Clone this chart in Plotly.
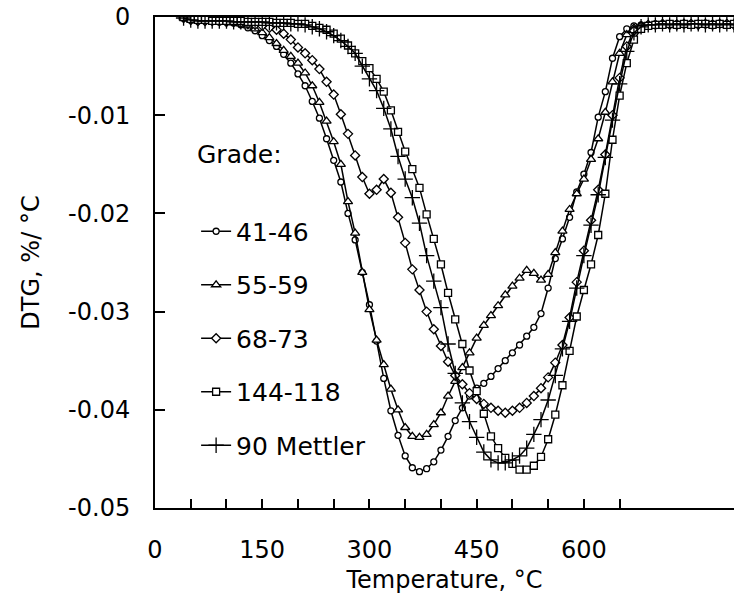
import plotly.graph_objects as go

temperature = [40, 50, 60, 70, 80, 90, 100, 110, 120, 130, 140, 150, 160, 170, 180, 190,
               200, 210, 220, 230, 240, 250, 260, 270, 280, 290, 300, 310, 320, 330, 340,
               350, 360, 370, 380, 390, 400, 410, 420, 430, 440, 450, 460, 470, 480, 490,
               500, 510, 520, 530, 540, 550, 560, 570, 580, 590, 600, 610, 620, 630, 640,
               650, 660, 670, 680, 690, 700, 710, 720, 730, 740, 750, 760, 770, 780, 790,
               800, 810]

g41_46 = [-0.0001, -0.0003, -0.0004, -0.0004, -0.0004, -0.0005, -0.0005, -0.0006, -0.0008, -0.0011,
          -0.0014, -0.0019, -0.0024, -0.0030, -0.0038, -0.0047, -0.0058, -0.0070, -0.0086, -0.0103,
          -0.0124, -0.0146, -0.0168, -0.0200, -0.0227, -0.0260, -0.0293, -0.0330, -0.0368, -0.0401,
          -0.0426, -0.0447, -0.0459, -0.0463, -0.0460, -0.0453, -0.0441, -0.0427, -0.0411, -0.0398,
          -0.0386, -0.0378, -0.0373, -0.0366, -0.0358, -0.0350, -0.0342, -0.0334, -0.0325, -0.0316,
          -0.0302, -0.0276, -0.0246, -0.0226, -0.0204, -0.0178, -0.0160, -0.0138, -0.0102, -0.0076,
          -0.0042, -0.0020, -0.0012, -0.0009, -0.0008, -0.0008, -0.0007, -0.0008, -0.0007, -0.0007,
          -0.0008, -0.0007, -0.0007, -0.0008, -0.0007, -0.0007, -0.0008, -0.0007]

g55_59 = [-0.0001, -0.0003, -0.0004, -0.0004, -0.0004, -0.0005, -0.0005, -0.0006, -0.0007, -0.0009,
          -0.0012, -0.0016, -0.0021, -0.0027, -0.0034, -0.0040, -0.0047, -0.0057, -0.0070, -0.0087,
          -0.0106, -0.0127, -0.0150, -0.0188, -0.0220, -0.0260, -0.0298, -0.0329, -0.0354, -0.0379,
          -0.0400, -0.0418, -0.0427, -0.0428, -0.0425, -0.0415, -0.0403, -0.0386, -0.0371, -0.0357,
          -0.0342, -0.0327, -0.0314, -0.0304, -0.0294, -0.0283, -0.0274, -0.0266, -0.0258, -0.0261,
          -0.0268, -0.0262, -0.0240, -0.0218, -0.0196, -0.0180, -0.0165, -0.0145, -0.0124, -0.0097,
          -0.0066, -0.0037, -0.0018, -0.0011, -0.0009, -0.0008, -0.0008, -0.0007, -0.0008, -0.0007,
          -0.0007, -0.0008, -0.0007, -0.0008, -0.0007, -0.0008, -0.0007, -0.0007]

g68_73 = [-0.0001, -0.0003, -0.0004, -0.0004, -0.0004, -0.0004, -0.0005, -0.0005, -0.0006, -0.0007,
          -0.0008, -0.0009, -0.0011, -0.0013, -0.0017, -0.0023, -0.0031, -0.0037, -0.0044, -0.0053,
          -0.0066, -0.0079, -0.0099, -0.0119, -0.0141, -0.0163, -0.0180, -0.0176, -0.0165, -0.0179,
          -0.0204, -0.0230, -0.0257, -0.0278, -0.0300, -0.0318, -0.0335, -0.0351, -0.0365, -0.0374,
          -0.0383, -0.0389, -0.0394, -0.0398, -0.0401, -0.0403, -0.0401, -0.0398, -0.0393, -0.0386,
          -0.0378, -0.0367, -0.0352, -0.0334, -0.0306, -0.0270, -0.0238, -0.0207, -0.0176, -0.0140,
          -0.0100, -0.0062, -0.0030, -0.0014, -0.0010, -0.0008, -0.0008, -0.0007, -0.0008, -0.0008,
          -0.0007, -0.0007, -0.0008, -0.0007, -0.0008, -0.0007, -0.0007, -0.0008]

g144_118 = [0.0000, -0.0002, -0.0003, -0.0003, -0.0004, -0.0004, -0.0004, -0.0004, -0.0004, -0.0005,
            -0.0005, -0.0005, -0.0005, -0.0006, -0.0006, -0.0006, -0.0007, -0.0007, -0.0009, -0.0011,
            -0.0013, -0.0017, -0.0022, -0.0029, -0.0037, -0.0045, -0.0052, -0.0063, -0.0076, -0.0095,
            -0.0117, -0.0137, -0.0155, -0.0174, -0.0201, -0.0226, -0.0252, -0.0281, -0.0308, -0.0333,
            -0.0360, -0.0381, -0.0404, -0.0427, -0.0439, -0.0449, -0.0455, -0.0461, -0.0461, -0.0457,
            -0.0448, -0.0430, -0.0405, -0.0375, -0.0340, -0.0305, -0.0278, -0.0252, -0.0222, -0.0180,
            -0.0125, -0.0080, -0.0047, -0.0023, -0.0012, -0.0009, -0.0008, -0.0008, -0.0007, -0.0008,
            -0.0007, -0.0008, -0.0007, -0.0007, -0.0008, -0.0007, -0.0008, -0.0007]

g90_mettler = [-0.0001, -0.0003, -0.0004, -0.0004, -0.0004, -0.0004, -0.0004, -0.0005, -0.0005, -0.0005,
               -0.0005, -0.0005, -0.0006, -0.0006, -0.0006, -0.0007, -0.0007, -0.0008, -0.0010, -0.0012,
               -0.0015, -0.0019, -0.0024, -0.0030, -0.0037, -0.0050, -0.0063, -0.0075, -0.0093, -0.0114,
               -0.0142, -0.0165, -0.0184, -0.0210, -0.0243, -0.0269, -0.0296, -0.0333, -0.0363, -0.0393,
               -0.0412, -0.0428, -0.0443, -0.0451, -0.0454, -0.0454, -0.0451, -0.0447, -0.0439, -0.0425,
               -0.0410, -0.0390, -0.0365, -0.0338, -0.0310, -0.0276, -0.0243, -0.0212, -0.0181, -0.0143,
               -0.0105, -0.0068, -0.0035, -0.0016, -0.0010, -0.0008, -0.0008, -0.0007, -0.0008, -0.0007,
               -0.0008, -0.0007, -0.0007, -0.0008, -0.0007, -0.0008, -0.0007, -0.0008]

series_names = ["41-46", "55-59", "68-73", "144-118", "90 Mettler"]
series_values = [g41_46, g55_59, g68_73, g144_118, g90_mettler]
symbols = ["circle", "triangle-up", "diamond", "square", "cross-thin"]
sizes = [6, 8, 7, 7, 11]

x_ticks = [0, 150, 300, 450, 600]
x_minor_ticks = [50, 100, 200, 250, 350, 400, 500, 550, 650]
y_ticks = [0, -0.01, -0.02, -0.03, -0.04, -0.05]
y_labels = ["0", "-0.01", "-0.02", "-0.03", "-0.04", "-0.05"]

FONT = "DejaVu Sans"
FS = 24

fig = go.Figure()
for name, vals, sym, sz in zip(series_names, series_values, symbols, sizes):
    fig.add_trace(go.Scatter(
        x=temperature, y=vals, name=name, mode="lines+markers",
        legendgroup=name,
        line=dict(color="black", width=1.5),
        marker=dict(symbol=sym, size=sz, color="white",
                    line=dict(color="black", width=1.3)),
    ))

fig.update_layout(
    width=734, height=597,
    margin=dict(l=155, r=0, t=17, b=89),
    paper_bgcolor="white", plot_bgcolor="white",
    font=dict(family=FONT, size=FS, color="black"),
    showlegend=True,
    legend=dict(x=0.071, y=0.610, xanchor="left", yanchor="top",
                bgcolor="rgba(0,0,0,0)", font=dict(family=FONT, size=25),
                tracegroupgap=18, itemwidth=30),
    xaxis=dict(range=[0, 810], tickvals=x_ticks, ticks="inside", ticklen=9,
               tickwidth=1.5, tickcolor="black",
               minor=dict(tickmode="array", tickvals=x_minor_ticks, ticks="inside",
                          ticklen=9, tickwidth=1.5, tickcolor="black"),
               showline=True, linecolor="black", linewidth=2, mirror=True,
               showgrid=False, zeroline=False, ticklabelstandoff=19,
               tickfont=dict(family=FONT, size=FS),
               title=dict(text="Temperature, °C", font=dict(family=FONT, size=FS), standoff=8)),
    yaxis=dict(range=[-0.05, 0], tickvals=y_ticks, ticktext=y_labels, ticks="inside",
               ticklen=10, tickwidth=1.5, tickcolor="black",
               showline=True, linecolor="black", linewidth=2,
               showgrid=False, zeroline=False, ticklabelstandoff=18,
               tickfont=dict(family=FONT, size=FS),
               title=dict(text="DTG, %/ °C", font=dict(family=FONT, size=FS), standoff=22)),
    annotations=[dict(text="Grade:", xref="paper", yref="paper", x=0.069, y=0.719,
                      xanchor="left", yanchor="middle", showarrow=False,
                      font=dict(family=FONT, size=25))],
)

fig.write_html("out.html")
